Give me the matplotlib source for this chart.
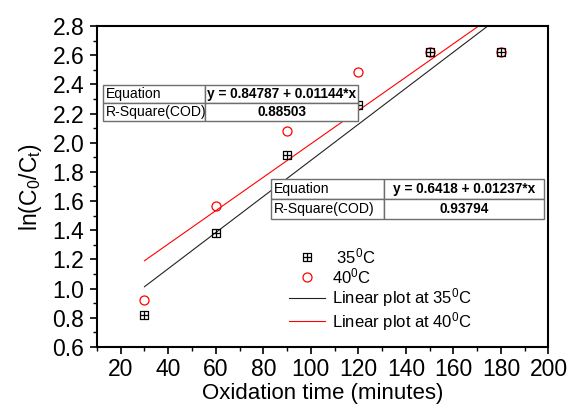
import matplotlib
matplotlib.use("Agg")
import matplotlib.pyplot as plt
from matplotlib.path import Path
from matplotlib.ticker import MultipleLocator, FormatStrFormatter
import numpy as np

plt.rcParams['font.family'] = ['Liberation Sans', 'DejaVu Sans']
plt.rcParams['mathtext.fontset'] = 'custom'
plt.rcParams['mathtext.rm'] = 'Liberation Sans'
plt.rcParams['mathtext.it'] = 'Liberation Sans:italic'

# Oxidation time (minutes) and ln(C0/Ct)
time_min = [30, 60, 90, 120, 150, 180]
ln_35 = [0.82, 1.383, 1.916, 2.26, 2.62, 2.62]
ln_40 = [0.922, 1.564, 2.08, 2.485, 2.62, 2.62]

# Linear fit parameters (intercept, slope, R-square)
fit_35 = (0.6418, 0.01237, 0.93794)
fit_40 = (0.84787, 0.01144, 0.88503)
fit_range = [30, 180]

# square with a cross inside
sq = Path(
    [(-1, -1), (1, -1), (1, 1), (-1, 1), (-1, -1),
     (0, -1), (0, 1), (-1, 0), (1, 0)],
    [Path.MOVETO, Path.LINETO, Path.LINETO, Path.LINETO, Path.CLOSEPOLY,
     Path.MOVETO, Path.LINETO, Path.MOVETO, Path.LINETO])

fig = plt.figure(figsize=(5.72, 4.08), dpi=100)
ax = fig.add_axes([0.1694, 0.1495, 0.7895, 0.7868])

xf = np.array(fit_range, dtype=float)
l35, = ax.plot(xf, fit_35[0] + fit_35[1] * xf, color='#222222', lw=0.8,
               label='Linear plot at 35$^0$C')
l40, = ax.plot(xf, fit_40[0] + fit_40[1] * xf, color='red', lw=0.8,
               label='Linear plot at 40$^0$C')
m40, = ax.plot(time_min, ln_40, ls='none', marker='o', ms=6.5, mfc='none',
               mec='red', mew=0.9, label='40$^0$C')
m35, = ax.plot(time_min, ln_35, ls='none', marker=sq, ms=6, mfc='none',
               mec='black', mew=0.9, label=' 35$^0$C')

ax.set_xlim(10, 200)
ax.set_ylim(0.6, 2.8)
ax.xaxis.set_major_locator(MultipleLocator(20))
ax.xaxis.set_minor_locator(MultipleLocator(10))
ax.yaxis.set_major_locator(MultipleLocator(0.2))
ax.yaxis.set_minor_locator(MultipleLocator(0.1))
ax.yaxis.set_major_formatter(FormatStrFormatter('%.1f'))
ax.tick_params(which='major', direction='out', length=5, width=1.2,
               labelsize=16.5, pad=3)
ax.tick_params(which='minor', direction='out', length=3, width=1.0)
ax.tick_params(axis='y', which='major', pad=4)
for s in ax.spines.values():
    s.set_linewidth(1.5)

ax.set_xlabel('Oxidation time (minutes)', fontsize=16, labelpad=1)
ax.set_ylabel(r'ln(C$_0$/C$_\mathrm{t}$)', fontsize=16.5, labelpad=6)

ax.legend(handles=[m35, m40, l35, l40], loc='upper left',
          bbox_to_anchor=(0.41, 0.335), frameon=False, fontsize=12,
          handlelength=2.2, handletextpad=0.4, labelspacing=0.02,
          borderaxespad=0)


def fit_table(fit, bbox, col0):
    b0, b1, r2 = fit
    cells = [['Equation', f'y = {b0:g} + {b1:g}*x'],
             ['R-Square(COD)', f'{r2:.5f}']]
    tb = ax.table(cellText=cells, bbox=bbox, colWidths=[col0, 1 - col0],
                  cellLoc='left', zorder=5)
    tb.auto_set_font_size(False)
    for (r, c), cell in tb.get_celld().items():
        cell.set_edgecolor('#6e6e6e')
        cell.set_linewidth(1.0)
        cell.set_facecolor('white')
        t = cell.get_text()
        if c == 1:
            t.set_fontsize(9.8)
            t.set_fontweight('bold')
            t.set_ha('center')
            cell._loc = 'center'
        else:
            t.set_fontsize(10.1)
            cell.PAD = 0.025
    return tb


fit_table(fit_40, [0.0135, 0.704, 0.565, 0.112], 0.40)
fit_table(fit_35, [0.3855, 0.399, 0.6045, 0.1246], 0.414)

fig.savefig('out.png', dpi=100)
